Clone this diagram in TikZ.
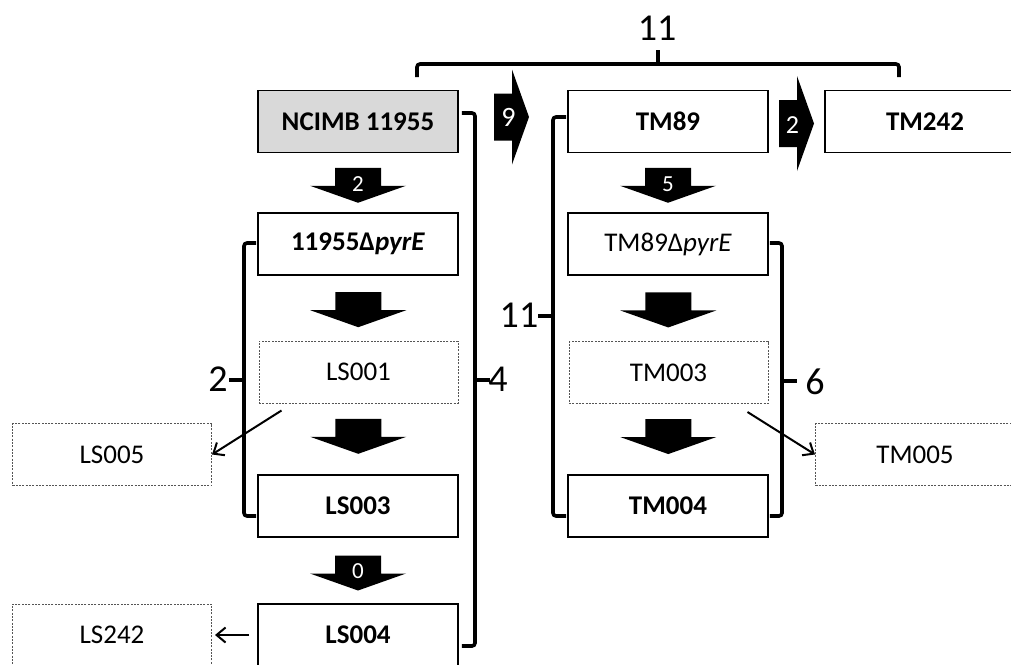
\documentclass[tikz,border=0pt]{standalone}
\usepackage{fontspec}
\setmainfont{Carlito}
\usetikzlibrary{arrows.meta,calc}
\definecolor{boxgray}{HTML}{D9D9D9}
\definecolor{dashgray}{HTML}{555555}
\tikzset{
  solidbox/.style={draw=black, line width=1.8pt, fill=white, minimum width=200pt, minimum height=62pt, inner sep=0pt, font=\fontsize{27}{30}\selectfont\bfseries},
  dashbox/.style={draw=dashgray, line width=1pt, dash pattern=on 2pt off 1.3pt, fill=white, minimum width=199pt, minimum height=62pt, inner sep=0pt, font=\fontsize{27}{30}\selectfont},
  plainbox/.style={solidbox, font=\fontsize{27}{30}\selectfont},
  bracketline/.style={line width=3.6pt, rounded corners=3pt, line cap=butt},
  bracketlbl/.style={font=\fontsize{38}{42}\selectfont, inner sep=0pt},
  numlbl/.style={text=white, font=\fontsize{23}{26}\selectfont, inner sep=0pt},
  thinarrow/.style={line width=2pt, -{Straight Barb[length=9pt,width=15pt,line width=2pt]}},
  downblk/.pic={\fill (-23,-17.5) -- (23,-17.5) -- (23,0.5) -- (48,0.5) -- (0,17.5) -- (-48,0.5) -- (-23,0.5) -- cycle;},
  rightblk/.pic={\fill (-17.5,-23.5) -- (0.5,-23.5) -- (0.5,-47.5) -- (17.5,0) -- (0.5,47.5) -- (0.5,23.5) -- (-17.5,23.5) -- cycle;}
}
\begin{document}
\begin{tikzpicture}[x=1pt,y=-1pt]
\useasboundingbox (0,0) rectangle (1011,664);
\clip (0,0) rectangle (1011,664);
\fill[white] (0,0) rectangle (1011,664);

% left column
\node[solidbox, fill=boxgray] (ncimb) at (358,121.5) {NCIMB 11955};
\node[solidbox] (pyrL) at (358,244) {11955Δ\textit{pyrE}};
\node[dashbox] (ls001) at (358.5,372) {LS001};
\node[solidbox] (ls003) at (358,506) {LS003};
\node[solidbox] (ls004) at (358,635) {LS004};
\node[dashbox] (ls005) at (112,454.5) {LS005};
\node[dashbox] (ls242) at (112,635) {LS242};

% right column
\node[solidbox] (tm89) at (668,121.5) {TM89};
\node[solidbox] (tm242) at (925,121.5) {TM242};
\node[plainbox] (pyrR) at (668,244) {TM89Δ\textit{pyrE}};
\node[dashbox] (tm003) at (668.5,372.5) {TM003};
\node[solidbox] (tm004) at (668,506) {TM004};
\node[dashbox] (tm005) at (915,454.5) {TM005};

% down block arrows
\coordinate (a1) at ($(ncimb.south)!0.5!(pyrL.north)+(0,2.5)$);
\coordinate (a2) at ($(pyrL.south)!0.5!(ls001.north)+(0,1.5)$);
\coordinate (a3) at ($(ls001.south)!0.5!(ls003.north)+(0,-2.5)$);
\coordinate (a4) at ($(ls003.south)!0.5!(ls004.north)+(0,2.5)$);
\coordinate (b1) at ($(tm89.south)!0.5!(pyrR.north)+(0,2.5)$);
\coordinate (b2) at ($(pyrR.south)!0.5!(tm003.north)+(0,1.5)$);
\coordinate (b3) at ($(tm003.south)!0.5!(tm004.north)+(0,-2.5)$);
\pic at (a1) {downblk};
\pic at (a2) {downblk};
\pic at (a3) {downblk};
\pic at (a4) {downblk};
\pic at (b1) {downblk};
\pic at (b2) {downblk};
\pic at (b3) {downblk};
\node[numlbl] (n1) at ($(a1)+(0,-1.5)$) {2};
\node[numlbl] (n4) at ($(a4)+(0,-1.5)$) {0};
\node[numlbl] (n5) at ($(b1)+(0,-1.5)$) {5};

% right block arrows
\coordinate (r1) at (511.5,117);
\coordinate (r2) at ($(tm89.east)!0.5!(tm242.west)+(0,2)$);
\pic at (r1) {rightblk};
\pic at (r2) {rightblk};
\node[numlbl, font=\fontsize{28}{30}\selectfont] (n9) at ($(r1)+(-3,0)$) {9};
\node[numlbl, font=\fontsize{26}{28}\selectfont] (n2b) at ($(r2)+(-4,2)$) {2};

% thin arrows
\draw[thinarrow] ($(ls001.south west)+(23,7)$) -- (ls005.east);
\draw[thinarrow] ($(tm003.south east)+(-21,8)$) -- (tm005.west);
\draw[thinarrow, shorten <=8pt, shorten >=3pt] (ls004.west) -- (ls242.east);

% brackets
% top
\draw[bracketline] (417,77) -- (417,64) -- (899,64) -- (899,77);
\draw[line width=3.6pt] (658,64) -- (658,50);
\node[bracketlbl] (t11) at (657,28) {11};
% bracket 4
\draw[bracketline] ($(ncimb.east)+(3,-8.5)$) -- (475,113) -- (475,646) -- ($(ls004.east)+(3,11)$);
\draw[line width=3.6pt] (475,380) -- (490,380);
\node[bracketlbl] (l4) at (498,379) {4};
% bracket 2
\draw[bracketline] ($(pyrL.west)+(-1,-1)$) -- (244,243) -- (244,516) -- ($(ls003.west)+(-1,10)$);
\draw[line width=3.6pt] (244,380) -- (229,380);
\node[bracketlbl] (l2) at (218,379) {2};
% bracket 11
\draw[bracketline] ($(tm89.west)+(-1,-4.5)$) -- (553,117) -- (553,516) -- ($(tm004.west)+(-1,10)$);
\draw[line width=3.6pt] (553,316) -- (538,316);
\node[bracketlbl] (l11) at (519,315) {11};
% bracket 6
\draw[bracketline] ($(pyrR.east)+(1,-1)$) -- (782,243) -- (782,516) -- ($(tm004.east)+(1,10)$);
\draw[line width=3.6pt] (782,381) -- (797,381);
\node[bracketlbl] (l6) at (815,382) {6};
\end{tikzpicture}
\end{document}
